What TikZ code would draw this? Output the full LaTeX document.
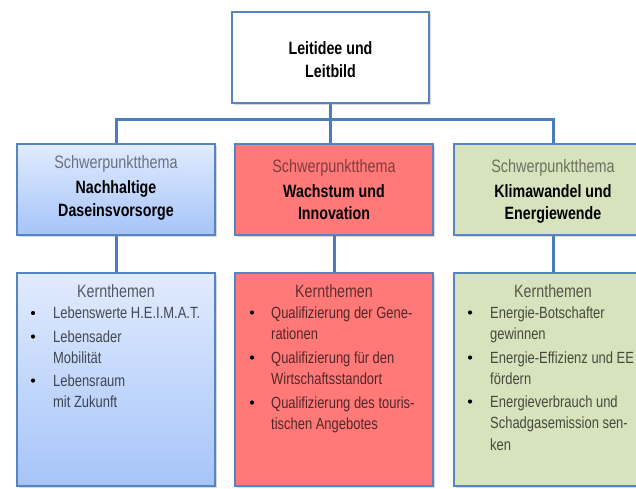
\documentclass[tikz,border=0pt]{standalone}
\usepackage{fontspec}
\setmainfont[FakeStretch=0.8]{Liberation Sans}
\usetikzlibrary{shadows,calc}
\pgfdeclarelayer{background}
\pgfsetlayers{background,main}
\definecolor{bord}{HTML}{5585C0}
\definecolor{conncol}{HTML}{4A7EBB}
\definecolor{bluetop}{HTML}{E1EBFE}
\definecolor{bluebot}{HTML}{A6C4F9}
\definecolor{redfill}{HTML}{FF7979}
\definecolor{greenfill}{HTML}{D7E3BD}
\begin{document}
\begin{tikzpicture}[x=1pt,y=-1pt,
  box/.style={draw=bord, line width=1.1pt, minimum width=198pt, inner sep=0pt,
    drop shadow={shadow xshift=1.5pt,shadow yshift=-1.5pt,opacity=0.3}},
  bluebox/.style={box, top color=bluetop, bottom color=bluebot},
  redbox/.style={box, fill=redfill},
  greenbox/.style={box, fill=greenfill},
  conn/.style={draw=conncol, line width=3pt},
  head/.style={anchor=base, font=\fontsize{18}{20}\selectfont, text=black, text opacity=0.5, inner sep=0pt},
  kern/.style={anchor=base, font=\fontsize{17.8}{20}\selectfont, text=black, text opacity=0.62, inner sep=0pt},
  ttl/.style={anchor=base, font=\fontsize{17.8}{20}\selectfont\bfseries, text=black, inner sep=0pt},
  body/.style={anchor=base west, font=\fontsize{16.2}{18}\selectfont, text=black, text opacity=0.68, inner sep=0pt},
  dot/.style={circle, fill=black, minimum size=4.2pt, inner sep=0pt}
]
\path[use as bounding box] (0,0) rectangle (636,488);
\clip (0,0) rectangle (636,488);

% boxes
\node[box, fill=white, minimum width=197pt, minimum height=91pt] (top) at (330.5,57.5) {};
\node[bluebox, minimum height=91pt] (b1) at (116,189.5) {};
\node[redbox, minimum height=91pt] (b2) at (334,189.5) {};
\node[greenbox, minimum height=91pt] (b3) at (553,189.5) {};
\node[bluebox, minimum height=213pt] (k1) at (116,379.5) {};
\node[redbox, minimum height=213pt] (k2) at (334,379.5) {};
\node[greenbox, minimum height=213pt] (k3) at (553,379.5) {};

% connectors
\begin{pgfonlayer}{background}
\coordinate (bus) at ($(top.south)+(0,16)$);
\draw[conn] (top.south) -- (bus);
\draw[conn] (b1.north) |- (bus) -| (b3.north);
\draw[conn] (bus) -- (bus |- b2.north);
\draw[conn] (b1.south) -- (k1.north);
\draw[conn] (b2.south) -- (k2.north);
\draw[conn] (b3.south) -- (k3.north);
\end{pgfonlayer}

% top text
\node[ttl] (t1) at (330.5,54) {Leitidee und};
\node[ttl] (t2) at (330.5,77) {Leitbild};

% row 1 texts
\node[head] (h1) at (116,168) {Schwerpunktthema};
\node[ttl] (h1a) at (116,193) {Nachhaltige};
\node[ttl] (h1b) at (116,216) {Daseinsvorsorge};
\node[head] (h2) at (334,172) {Schwerpunktthema};
\node[ttl] (h2a) at (334,197) {Wachstum und};
\node[ttl] (h2b) at (334,219.5) {Innovation};
\node[head] (h3) at (553,172) {Schwerpunktthema};
\node[ttl] (h3a) at (553,197) {Klimawandel und};
\node[ttl] (h3b) at (553,219.5) {Energiewende};

% row 2: left
\node[kern] (k1h) at (116,297) {Kernthemen};
\node[dot] (d11) at (33,313) {};
\node[body] (l11) at (53,318.5) {Lebenswerte H.E.I.M.A.T.};
\node[dot] (d12) at (33,336.5) {};
\node[body] (l12) at (53,342) {Lebensader};
\node[body] (l13) at (53,363) {Mobilität};
\node[dot] (d13) at (33,380.5) {};
\node[body] (l14) at (53,386) {Lebensraum};
\node[body] (l15) at (53,407) {mit Zukunft};

% row 2: middle
\node[kern] (k2h) at (334,297) {Kernthemen};
\node[dot] (d21) at (252,312.5) {};
\node[body] (l21) at (271,318) {Qualifizierung der Gene-};
\node[body] (l22) at (271,339.5) {rationen};
\node[dot] (d22) at (252,357.5) {};
\node[body] (l23) at (271,363) {Qualifizierung für den};
\node[body] (l24) at (271,384.5) {Wirtschaftsstandort};
\node[dot] (d23) at (252,402.5) {};
\node[body] (l25) at (271,408) {Qualifizierung des touris-};
\node[body] (l26) at (271,429.5) {tischen Angebotes};

% row 2: right
\node[kern] (k3h) at (553,297) {Kernthemen};
\node[dot] (d31) at (470,312.5) {};
\node[body] (l31) at (490,318) {Energie-Botschafter};
\node[body] (l32) at (490,339.5) {gewinnen};
\node[dot] (d32) at (470,357.5) {};
\node[body] (l33) at (490,363) {Energie-Effizienz und EE};
\node[body] (l34) at (490,384.5) {fördern};
\node[dot] (d33) at (470,401.5) {};
\node[body] (l35) at (490,407) {Energieverbrauch und};
\node[body] (l36) at (490,428.5) {Schadgasemission sen-};
\node[body] (l37) at (490,450) {ken};
\end{tikzpicture}
\end{document}
